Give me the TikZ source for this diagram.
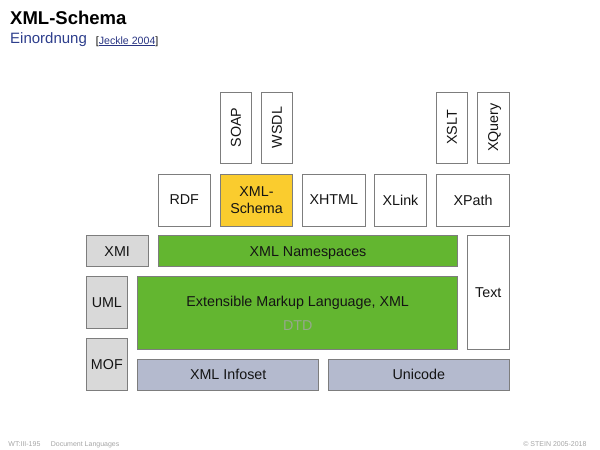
\documentclass[tikz,border=0pt]{standalone}
\usepackage{fontspec}
\setmainfont{Liberation Sans}
\usepackage{tikz}

\definecolor{boxline}{RGB}{125,125,125}
\definecolor{boxtext}{RGB}{20,20,20}
\definecolor{boxgray}{RGB}{217,217,217}
\definecolor{boxblue}{RGB}{180,186,206}
\definecolor{boxgreen}{RGB}{99,182,48}
\definecolor{schemayellow}{RGB}{250,204,46}
\definecolor{titleblue}{RGB}{45,62,140}
\definecolor{linkblue}{RGB}{40,52,130}
\definecolor{footgray}{RGB}{165,165,165}
\definecolor{dtdgray}{RGB}{150,168,140}

\begin{document}
\begin{tikzpicture}
	[x=1pt,y=-1pt,inner sep=0pt,
		box/.style={draw=boxline,line width=0.8pt,fill=white,text=boxtext,align=center,
			text depth=0pt,font=\fontsize{14.3}{17.5}\selectfont},
		up box/.style={box,rotate=90,minimum width=71pt,minimum height=31pt},
		gray box/.style={box,fill=boxgray},
		green box/.style={box,fill=boxgreen},
		blue box/.style={box,fill=boxblue}]

	\useasboundingbox (0,0) rectangle (600,450);

	% heading
	\node[anchor=base west, font=\fontsize{18.5}{20}\selectfont\bfseries] (title) at (10,24.3) {XML-Schema};
	\node[anchor=base west, text=titleblue, font=\fontsize{15}{17}\selectfont] (subtitle) at (10,43.3) {Einordnung};
	\node[anchor=base west, font=\fontsize{10.6}{12}\selectfont] (source) at (95.7,44) {[{\color{linkblue}\underline{Jeckle 2004}}]};

	% top row
	\node[up box] (SOAP) at (236,127.5) {SOAP};
	\node[up box] (WSDL) at (277,127.5) {WSDL};
	\node[up box] (XSLT) at (452,127.5) {XSLT};
	\node[up box, minimum height=31.5pt] (XQuery) at (493.25,127.5) {XQuery};

	% second row
	\node[box, minimum width=51.5pt, minimum height=52pt] (RDF) at (184.25,200) {RDF};
	\node[box, fill=schemayellow, minimum width=72pt, minimum height=52pt] (Schema) at (256.5,200) {XML-\\Schema};
	\node[box, minimum width=62.5pt, minimum height=52pt] (XHTML) at (333.75,200) {XHTML};
	\node[box, minimum width=52pt, minimum height=52pt] (XLink) at (400.5,200) {XLink};
	\node[box, minimum width=73pt, minimum height=52pt] (XPath) at (473,200) {XPath};

	% core
	\node[gray box, minimum width=62.3pt, minimum height=31pt] (XMI) at (117.2,251.2) {XMI};
	\node[green box, minimum width=299.4pt, minimum height=31pt] (NS) at (308,251.2) {XML Namespaces};
	\node[box, minimum width=42pt, minimum height=113.6pt] (Text) at (488.3,292.5) {Text};
	\node[gray box, minimum width=41.7pt, minimum height=52pt] (UML) at (106.85,302.7) {UML};
	\node[green box, minimum width=320pt, minimum height=72.6pt, font=\fontsize{14.3}{24}\selectfont] (XML) at (297.7,313)
		{Extensible Markup Language, XML\\{\color{dtdgray}DTD}};
	\node[gray box, minimum width=41.7pt, minimum height=52pt] (MOF) at (106.85,364.3) {MOF};
	\node[blue box, minimum width=181pt, minimum height=31pt] (Infoset) at (228.2,374.8) {XML Infoset};
	\node[blue box, minimum width=181pt, minimum height=31pt] (Unicode) at (418.8,374.8) {Unicode};

	% footer
	\node[anchor=base west, text=footgray, font=\fontsize{7}{8}\selectfont] (page) at (8.3,446.3) {WT:III-195};
	\node[anchor=base west, text=footgray, font=\fontsize{7}{8}\selectfont] (course) at (50.7,446.3) {Document Languages};
	\node[anchor=base east, text=footgray, font=\fontsize{7}{8}\selectfont] (copy) at (586.7,446.3) {\textcopyright\ STEIN 2005-2018};

\end{tikzpicture}
\end{document}
